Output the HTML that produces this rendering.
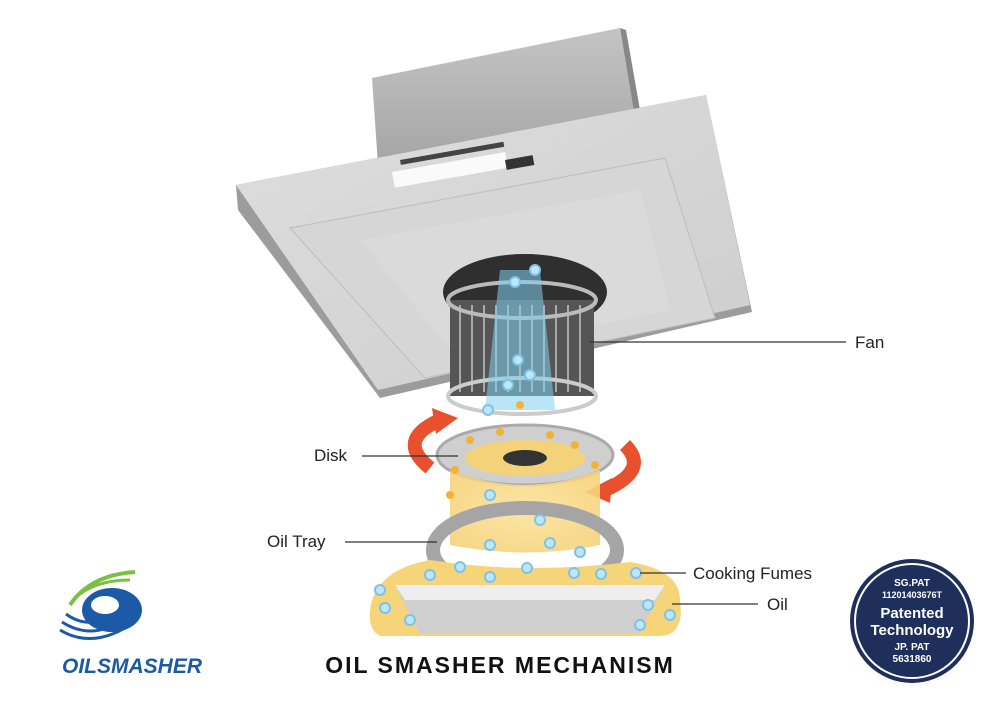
<!DOCTYPE html>
<html><head><style>body{margin:0;background:#fff}svg{display:block}</style></head><body>
<svg width="1000" height="707" viewBox="0 0 1000 707" font-family="Liberation Sans, sans-serif">
<defs>
<linearGradient id="g1" x1="0" y1="0" x2="0" y2="1"><stop offset="0" stop-color="#c4c4c4"/><stop offset="1" stop-color="#a5a5a5"/></linearGradient>
<linearGradient id="g2" x1="0" y1="0" x2="1" y2="1"><stop offset="0" stop-color="#dedede"/><stop offset="1" stop-color="#cdcdcd"/></linearGradient>
<radialGradient id="yb" cx=".5" cy=".5" r=".6"><stop offset="0" stop-color="#fbe39a"/><stop offset="1" stop-color="#f6d27a"/></radialGradient>
</defs>
<!-- chimney -->
<polygon points="372,78 620,28 634,112 378,165" fill="url(#g1)"/>
<polygon points="620,28 634,112 640,110 626,30" fill="#888"/>
<!-- panel -->
<polygon points="236,185 706,95 752,312 380,398 238,210" fill="#9c9c9c"/>
<polygon points="236,185 706,95 750,305 378,390" fill="url(#g2)"/>
<polygon points="290,228 665,158 715,318 425,378" fill="#d6d6d6" stroke="#bdbdbd"/>
<polygon points="360,240 640,190 670,310 455,355" fill="#dadada"/>
<rect x="392" y="172" width="115" height="16" fill="#fafafa" transform="rotate(-10 392 172)"/>
<rect x="505" y="160" width="28" height="10" fill="#333" transform="rotate(-10 505 160)"/>
<rect x="400" y="160" width="105" height="5" fill="#444" transform="rotate(-10 400 160)"/>
<!-- fan opening -->
<ellipse cx="525" cy="292" rx="82" ry="38" fill="#2f2f2f"/>
<!-- fan -->
<rect x="450" y="300" width="144" height="96" fill="#555"/>
<g stroke="#aaa" stroke-width="2">
<line x1="460" y1="305" x2="460" y2="392"/><line x1="472" y1="305" x2="472" y2="392"/><line x1="484" y1="305" x2="484" y2="392"/><line x1="496" y1="305" x2="496" y2="392"/><line x1="508" y1="305" x2="508" y2="392"/><line x1="520" y1="305" x2="520" y2="392"/><line x1="532" y1="305" x2="532" y2="392"/><line x1="544" y1="305" x2="544" y2="392"/><line x1="556" y1="305" x2="556" y2="392"/><line x1="568" y1="305" x2="568" y2="392"/><line x1="580" y1="305" x2="580" y2="392"/></g>
<ellipse cx="522" cy="300" rx="74" ry="18" fill="none" stroke="#bbb" stroke-width="4"/>
<ellipse cx="522" cy="396" rx="74" ry="18" fill="none" stroke="#ccc" stroke-width="4"/>
<path d="M500,270 L540,270 L555,410 L485,410Z" fill="#7fd0f0" opacity=".55"/>
<!-- disk -->
<ellipse cx="525" cy="455" rx="88" ry="30" fill="#cfcfcf" stroke="#aaa" stroke-width="3"/>
<ellipse cx="525" cy="458" rx="60" ry="18" fill="#f3d27a"/>
<ellipse cx="525" cy="458" rx="22" ry="8" fill="#333"/>
<!-- arrows -->
<path d="M430,468 Q395,440 440,420" fill="none" stroke="#e8502e" stroke-width="14"/>
<polygon points="432,408 458,418 436,434" fill="#e8502e"/>
<path d="M625,445 Q650,470 605,490" fill="none" stroke="#e8502e" stroke-width="14"/>
<polygon points="612,478 585,492 610,503" fill="#e8502e"/>
<!-- fumes -->
<path d="M450,470 Q525,500 600,470 L600,545 Q525,560 450,545Z" fill="url(#yb)" opacity=".9"/>
<!-- tray -->
<ellipse cx="525" cy="550" rx="92" ry="42" fill="none" stroke="#a5a5a5" stroke-width="14"/>
<!-- bottom blob -->
<path d="M370,610 Q375,570 430,560 Q525,575 630,562 Q680,570 680,600 Q685,635 660,636 L380,636 Q368,630 370,610Z" fill="#f6d47a"/>
<polygon points="395,585 665,585 638,634 420,634" fill="#cfcfcf"/>
<polygon points="395,585 665,585 655,600 405,600" fill="#eee"/>
<!-- dots -->
<g fill="#bfe6f8" stroke="#7cc3e8" stroke-width="2">
<circle cx="490" cy="545" r="5"/><circle cx="550" cy="543" r="5"/><circle cx="580" cy="552" r="5"/><circle cx="430" cy="575" r="5"/><circle cx="460" cy="567" r="5"/><circle cx="527" cy="568" r="5"/><circle cx="574" cy="573" r="5"/><circle cx="601" cy="574" r="5"/><circle cx="636" cy="573" r="5"/><circle cx="380" cy="590" r="5"/><circle cx="385" cy="608" r="5"/><circle cx="410" cy="620" r="5"/><circle cx="648" cy="605" r="5"/><circle cx="670" cy="615" r="5"/><circle cx="640" cy="625" r="5"/><circle cx="490" cy="495" r="5"/><circle cx="540" cy="520" r="5"/><circle cx="490" cy="577" r="5"/>
<circle cx="508" cy="385" r="5"/><circle cx="530" cy="375" r="5"/><circle cx="518" cy="360" r="5"/><circle cx="488" cy="410" r="5"/><circle cx="535" cy="270" r="5"/><circle cx="515" cy="282" r="5"/>
</g>
<g fill="#f2b233"><circle cx="470" cy="440" r="4"/><circle cx="500" cy="432" r="4"/><circle cx="550" cy="435" r="4"/><circle cx="575" cy="445" r="4"/><circle cx="455" cy="470" r="4"/><circle cx="595" cy="465" r="4"/><circle cx="450" cy="495" r="4"/><circle cx="520" cy="405" r="4"/></g>
<!-- labels -->
<g stroke="#333" stroke-width="1.2">
<line x1="590" y1="342" x2="846" y2="342"/><line x1="362" y1="456" x2="458" y2="456"/><line x1="345" y1="542" x2="437" y2="542"/><line x1="640" y1="573" x2="686" y2="573"/><line x1="672" y1="604" x2="758" y2="604"/></g>
<g font-size="17" fill="#222" font-family="Liberation Sans, sans-serif">
<text x="855" y="348">Fan</text><text x="314" y="461">Disk</text><text x="267" y="547">Oil Tray</text><text x="693" y="579">Cooking Fumes</text><text x="767" y="610">Oil</text></g>
<text x="500" y="673" text-anchor="middle" font-size="23" font-weight="bold" letter-spacing="2" fill="#111">OIL SMASHER MECHANISM</text>
<!-- logo -->
<path d="M70,605 Q90,575 135,572" fill="none" stroke="#7ac142" stroke-width="4"/>
<path d="M75,598 Q95,580 130,580" fill="none" stroke="#7ac142" stroke-width="3"/>
<ellipse cx="112" cy="610" rx="30" ry="22" fill="#1c5aa8"/>
<ellipse cx="105" cy="605" rx="14" ry="9" fill="#fff"/>
<path d="M60,630 Q90,648 125,628 M62,622 Q90,640 120,622 M66,614 Q88,630 112,615" fill="none" stroke="#1c5aa8" stroke-width="3"/>
<text x="62" y="673" font-size="21" font-weight="bold" font-style="italic" fill="#1c5aa8">OIL<tspan>SMASHER</tspan></text>
<!-- badge -->
<circle cx="912" cy="621" r="62" fill="#1f2f5c"/>
<circle cx="912" cy="621" r="57" fill="none" stroke="#fff" stroke-width="2"/>
<g fill="#fff" text-anchor="middle" font-weight="bold">
<text x="912" y="586" font-size="10">SG.PAT</text><text x="912" y="598" font-size="9">11201403676T</text>
<text x="912" y="618" font-size="15">Patented</text><text x="912" y="635" font-size="15">Technology</text>
<text x="912" y="650" font-size="10">JP. PAT</text><text x="912" y="662" font-size="10">5631860</text></g>
</svg>
</body></html>
